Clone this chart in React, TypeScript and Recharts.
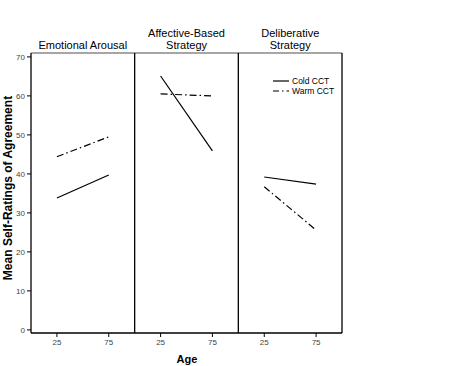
import React from 'react';
import { LineChart, Line, XAxis, YAxis, ReferenceLine } from 'recharts';

const ages = [25, 75];
const panelTitles = [['Emotional Arousal'], ['Affective-Based', 'Strategy'], ['Deliberative', 'Strategy']];
const coldCCT = [[33.8, 39.7], [65.1, 45.9], [39.2, 37.4]];
const warmCCT = [[44.4, 49.5], [60.5, 60.0], [36.7, 25.6]];
const yTicks = [0, 10, 20, 30, 40, 50, 60, 70];

const FONT = '"Liberation Sans", Arial, Helvetica, sans-serif';
const WARM_DASH = '7 3 1.5 3';

// each panel is 100 units wide on the shared x axis
const panelData = panelTitles.map((_, i) =>
    ages.map((a, j) => ({ x: i * 100 + a, cold: coldCCT[i][j], warm: warmCCT[i][j] }))
);
const xTicks = panelTitles.flatMap((_, i) => ages.map(a => i * 100 + a));

const App: React.FC = () => {
    return (
        <div style={{ position: 'fixed', left: 0, top: 0, width: 460, height: 366, background: '#fff', fontFamily: FONT }}>
            <LineChart width={460} height={366} margin={{ top: 53, right: 118, left: 0, bottom: 13 }}>
                <XAxis
                    type="number"
                    dataKey="x"
                    domain={[0, 300]}
                    ticks={xTicks}
                    tickFormatter={(v) => String(v % 100)}
                    allowDuplicatedCategory={false}
                    height={20}
                    tickSize={4}
                    axisLine={{ stroke: '#000', strokeWidth: 1.3 }}
                    tickLine={{ stroke: '#000' }}
                    tick={{ fill: '#444', fontSize: 8, fontFamily: FONT }}
                />
                <YAxis
                    type="number"
                    domain={[-0.8, 71]}
                    ticks={yTicks}
                    width={31}
                    tickSize={4}
                    axisLine={{ stroke: '#000', strokeWidth: 1.3 }}
                    tickLine={{ stroke: '#000' }}
                    tick={{ fill: '#444', fontSize: 8, fontFamily: FONT }}
                    allowDataOverflow
                />
                <ReferenceLine y={71} stroke="#888" strokeWidth={1.3} ifOverflow="visible" />
                <ReferenceLine x={100} stroke="#000" strokeWidth={1.3} />
                <ReferenceLine x={200} stroke="#000" strokeWidth={1.3} />
                <ReferenceLine x={300} stroke="#000" strokeWidth={1.3} ifOverflow="visible" />
                {panelData.map((d, i) => (
                    <Line
                        key={'c' + i}
                        data={d}
                        dataKey="cold"
                        stroke="#000"
                        strokeWidth={1.2}
                        dot={false}
                        isAnimationActive={false}
                    />
                ))}
                {panelData.map((d, i) => (
                    <Line
                        key={'w' + i}
                        data={d}
                        dataKey="warm"
                        stroke="#000"
                        strokeWidth={1.2}
                        strokeDasharray={WARM_DASH}
                        dot={false}
                        isAnimationActive={false}
                    />
                ))}
            </LineChart>

            {/* panel titles */}
            {panelTitles.map((lines, i) => (
                <div
                    key={i}
                    style={{
                        position: 'absolute',
                        left: 31 + i * 103.7,
                        width: 103.7,
                        bottom: 366 - 51,
                        textAlign: 'center',
                        fontSize: 11,
                        lineHeight: '11.5px',
                        color: '#000',
                    }}
                >
                    {lines.map(l => <div key={l}>{l}</div>)}
                </div>
            ))}

            {/* legend */}
            <div style={{ position: 'absolute', left: 273, top: 76, fontSize: 8.5, lineHeight: '10px', color: '#000' }}>
                {['Cold CCT', 'Warm CCT'].map((name, i) => (
                    <div key={name} style={{ display: 'flex', alignItems: 'center', height: 10 }}>
                        <svg width={17} height={10}>
                            <line x1={0} x2={16} y1={5} y2={5} stroke="#000" strokeWidth={1.2}
                                strokeDasharray={i === 1 ? '6 3 1.5 3' : undefined} />
                        </svg>
                        <span style={{ marginLeft: 2 }}>{name}</span>
                    </div>
                ))}
            </div>

            {/* axis titles */}
            <div style={{ position: 'absolute', left: 187, top: 359, transform: 'translate(-50%, -50%)', fontSize: 11, fontWeight: 'bold' }}>
                Age
            </div>
            <div
                style={{
                    position: 'absolute',
                    left: 8,
                    top: 188,
                    transform: 'translate(-50%, -50%) rotate(-90deg)',
                    whiteSpace: 'nowrap',
                    fontSize: 12,
                    fontWeight: 'bold',
                }}
            >
                Mean Self-Ratings of Agreement
            </div>
        </div>
    );
};

export default App;
